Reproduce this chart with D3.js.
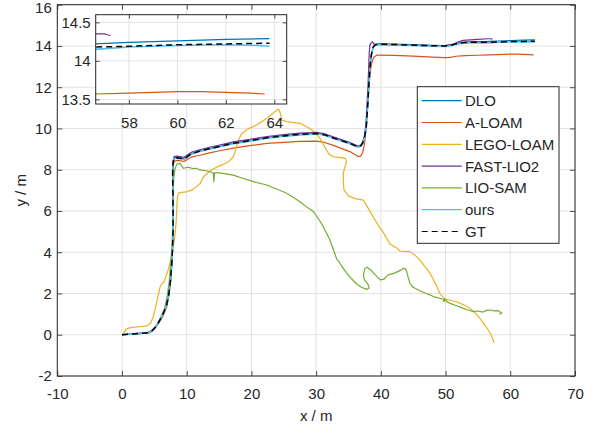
<!DOCTYPE html>
<html>
<head>
<meta charset="utf-8">
<script src="https://cdn.jsdelivr.net/npm/d3@7"></script>
<style>
  body { margin: 0; background: #fff; }
  svg { display: block; }
  text { font-family: "Liberation Sans", Arial, Helvetica, sans-serif; fill: #262626; }
</style>
</head>
<body>
<svg id="chart" width="601" height="429"></svg>
<script>
// ---- trajectories (x / m, y / m) ----
const gt = [
  [0,0],[1,0.03],[2.5,0.06],[4.0,0.1],[4.6,0.18],[5.2,0.38],[5.8,0.68],[6.4,1.05],[6.9,1.45],
  [7.25,2.0],[7.5,2.65],[7.68,3.4],[7.8,4.1],[7.88,5.0],[7.9,5.9],[7.87,7.0],[7.82,7.8],[7.88,8.3],
  [8.0,8.55],[8.5,8.58],[9.0,8.56],[9.6,8.52],[10.2,8.66],[10.8,8.78],[12.0,8.9],[13.5,9.02],
  [15.1,9.13],[17.2,9.28],[20,9.42],[22.4,9.55],[25,9.64],[27.5,9.71],[30.1,9.76],[31.2,9.7],
  [32.65,9.54],[34,9.4],[35.2,9.28],[36.0,9.17],[36.5,9.11],[36.9,9.16],[37.2,9.3],[37.5,9.6],
  [37.75,10.1],[37.9,10.8],[38.05,11.6],[38.2,12.4],[38.35,13.1],[38.55,13.6],[38.8,13.93],
  [39.1,14.05],[39.6,14.09],[42,14.07],[45,14.04],[48,14.01],[49.9,14.0],[50.8,14.03],[51.6,14.1],
  [52.7,14.16],[54,14.18],[56.6,14.18],[58,14.19],[60,14.21],[62,14.22],[63.8,14.23]
];
const dlo = [
  [0,0],[1,0.03],[2.5,0.06],[4.0,0.1],[4.6,0.19],[5.2,0.39],[5.8,0.69],[6.4,1.06],[6.9,1.46],
  [7.25,2.0],[7.5,2.65],[7.68,3.4],[7.8,4.1],[7.88,5.0],[7.9,5.9],[7.87,7.0],[7.82,7.8],[7.88,8.32],
  [8.0,8.57],[8.5,8.6],[9.0,8.58],[9.6,8.54],[10.2,8.68],[10.8,8.8],[12.0,8.92],[13.5,9.04],
  [15.1,9.15],[17.2,9.3],[20,9.44],[22.4,9.57],[25,9.66],[27.5,9.73],[30.1,9.78],[31.2,9.72],
  [32.65,9.56],[34,9.42],[35.2,9.3],[36.0,9.19],[36.5,9.13],[36.9,9.18],[37.2,9.32],[37.5,9.62],
  [37.75,10.12],[37.9,10.82],[38.05,11.62],[38.2,12.42],[38.35,13.12],[38.55,13.62],[38.8,13.95],
  [39.1,14.07],[39.6,14.11],[42,14.09],[45,14.06],[48,14.03],[49.9,14.02],[50.8,14.05],[51.6,14.12],
  [52.7,14.19],[54,14.21],[56.6,14.22],[58,14.24],[60,14.26],[62,14.28],[63.8,14.29]
];
const aloam = [
  [0,0],[2.5,0.04],[4.3,0.1],[5.0,0.28],[5.6,0.53],[6.3,0.88],[6.9,1.34],[7.3,2.0],[7.5,2.65],
  [7.7,3.4],[7.8,4.1],[7.9,5.0],[7.92,5.9],[7.9,7.0],[7.86,7.8],[7.95,8.25],[8.1,8.42],[8.7,8.45],
  [9.6,8.4],[10.2,8.52],[10.8,8.62],[12.05,8.7],[13.5,8.82],[15.1,8.92],[17.2,9.05],[20,9.18],
  [22.4,9.28],[25,9.33],[27.5,9.37],[30.1,9.39],[31.2,9.33],[32.65,9.18],[34,9.02],[35.2,8.88],
  [36,8.74],[36.5,8.64],[36.9,8.66],[37.2,8.85],[37.5,9.3],[37.75,10.2],[37.95,11.1],[38.15,12.0],
  [38.35,12.7],[38.6,13.2],[38.9,13.45],[39.4,13.56],[42,13.54],[45,13.51],[48,13.46],[49.9,13.43],
  [50.8,13.45],[51.6,13.5],[53,13.53],[55,13.55],[56.6,13.57],[58,13.58],[59,13.59],[60,13.6],
  [61,13.6],[62,13.59],[63,13.58],[63.6,13.57]
];
const legoLoam = [
  [0,0],[0.2,0.04],[0.6,0.26],[1.0,0.32],[1.7,0.36],[3.0,0.4],[3.8,0.42],[4.4,0.55],[4.8,0.85],
  [5.1,1.2],[5.5,1.8],[5.9,2.33],[6.2,2.5],[6.5,2.57],[7.0,3.0],[7.4,3.46],[7.8,4.1],[8.0,4.43],
  [8.2,4.9],[8.35,5.4],[8.45,6.0],[8.55,6.69],[8.85,6.89],[10.0,6.93],[10.8,7.02],[11.5,7.18],
  [12.1,7.35],[12.6,7.66],[13.6,7.95],[15.1,8.2],[15.65,8.25],[16.5,8.4],[17.2,8.63],[17.6,9.0],
  [18.0,9.44],[18.5,9.76],[19.5,9.98],[20.8,10.17],[22.4,10.49],[23.6,10.81],[24.2,10.94],
  [24.5,10.7],[24.7,10.41],[25.45,10.33],[27.5,10.25],[29.05,10.0],[30.0,9.75],[30.6,9.52],
  [31.1,9.25],[31.6,8.95],[32.0,8.75],[32.65,8.63],[33.5,8.6],[34.5,8.55],[34.7,8.39],[34.4,8.1],
  [34.2,7.83],[34.2,7.4],[34.3,7.02],[35.0,6.73],[36.0,6.6],[37.3,6.53],[38.1,6.1],[38.8,5.72],
  [39.6,5.3],[40.4,4.95],[41.4,4.4],[42.45,4.2],[43.0,4.05],[44.5,4.03],[45.3,3.85],[46.05,3.62],
  [47.6,2.98],[48.5,2.45],[49.1,2.01],[49.9,1.73],[50.8,1.66],[51.7,1.6],[52.8,1.45],[53.8,1.28],
  [54.6,1.05],[55.3,0.8],[56.0,0.5],[56.6,0.23],[57.1,-0.05],[57.5,-0.39]
];
const fastLio2 = [
  [0,0],[1,0.03],[2.5,0.07],[4.0,0.12],[4.6,0.2],[5.2,0.4],[5.8,0.7],[6.4,1.07],[6.9,1.47],
  [7.25,2.0],[7.5,2.65],[7.68,3.4],[7.8,4.1],[7.88,5.0],[7.9,5.9],[7.87,7.0],[7.84,7.8],[7.9,8.38],
  [8.05,8.64],[8.5,8.66],[9.0,8.64],[9.6,8.6],[10.2,8.74],[10.8,8.86],[12.0,8.97],[13.5,9.09],
  [15.1,9.2],[17.2,9.35],[20,9.49],[22.4,9.61],[25,9.7],[27.5,9.77],[30.1,9.81],[31.2,9.75],
  [32.65,9.59],[34,9.45],[35.2,9.32],[36.0,9.21],[36.5,9.15],[36.9,9.2],[37.2,9.35],[37.5,9.7],
  [37.7,10.3],[37.85,11.1],[38.0,12.0],[38.1,12.8],[38.2,13.64],[38.3,14.04],[38.5,14.15],
  [38.7,14.2],[38.9,14.1],[39.4,14.06],[42,14.05],[45,14.03],[48,14.02],[49.9,14.02],[51.2,14.09],
  [52.0,14.2],[52.7,14.27],[55,14.32],[56.6,14.35],[57.0,14.35],[57.1,14.34],[57.25,14.33]
];
const lioSam = [
  [0,0],[2,0.03],[4.3,0.1],[5.2,0.35],[6.0,0.85],[6.6,1.3],[7.0,1.9],[7.3,2.6],[7.5,3.4],[7.7,4.2],
  [7.8,5.0],[7.85,6.0],[7.9,7.0],[8.0,7.6],[8.2,8.05],[8.45,8.26],[8.96,8.31],[9.2,8.2],[9.47,8.07],
  [10.2,8.12],[11.0,8.05],[11.5,8.07],[12.05,7.99],[13.0,7.95],[13.6,7.9],[14.1,7.85],[14.2,7.42],
  [14.3,7.85],[15.1,7.85],[16.0,7.8],[17.2,7.74],[18.5,7.6],[20.3,7.42],[22.4,7.26],[24.0,7.05],
  [25.45,6.86],[26.5,6.65],[27.5,6.45],[28.5,6.2],[29.6,5.96],[30.4,5.6],[31.1,5.24],[32.1,4.62],
  [32.7,4.1],[33.2,3.65],[33.5,3.55],[34.0,3.3],[34.7,3.0],[35.5,2.7],[36.3,2.45],[37.0,2.3],
  [37.8,2.2],[38.2,2.27],[38.0,2.45],[37.5,2.65],[37.3,2.85],[37.4,3.05],[37.55,3.22],[37.9,3.27],
  [38.4,3.15],[39.0,2.95],[39.9,2.66],[40.5,2.7],[41.15,2.9],[42.2,3.0],[43.0,3.12],[43.5,3.22],
  [43.8,3.2],[44.0,3.05],[44.3,2.7],[44.5,2.49],[45.0,2.3],[45.8,2.17],[46.6,2.05],[47.6,1.93],
  [48.4,1.82],[49.1,1.77],[49.6,1.72],[49.75,1.6],[49.9,1.75],[50.1,1.62],[50.7,1.52],[51.6,1.42],
  [52.7,1.28],[53.5,1.2],[54.3,1.12],[55.0,1.15],[55.8,1.1],[56.3,1.18],[56.9,1.2],[57.5,1.16],
  [58.15,1.17],[58.7,1.04],[58.3,1.0]
];
const ours = [
  [0,0],[1,0.03],[2.5,0.06],[4.0,0.1],[4.6,0.18],[5.2,0.37],[5.8,0.67],[6.4,1.04],[6.9,1.44],
  [7.25,2.0],[7.5,2.65],[7.68,3.4],[7.8,4.1],[7.88,5.0],[7.9,5.9],[7.87,7.0],[7.82,7.8],[7.88,8.28],
  [8.0,8.53],[8.5,8.56],[9.0,8.54],[9.6,8.5],[10.2,8.64],[10.8,8.76],[12.0,8.88],[13.5,9.0],
  [15.1,9.11],[17.2,9.26],[20,9.4],[22.4,9.53],[25,9.62],[27.5,9.69],[30.1,9.74],[31.2,9.68],
  [32.65,9.52],[34,9.38],[35.2,9.26],[36.0,9.15],[36.5,9.09],[36.9,9.14],[37.2,9.28],[37.5,9.58],
  [37.75,10.08],[37.9,10.78],[38.05,11.58],[38.2,12.38],[38.35,13.08],[38.55,13.58],[38.8,13.91],
  [39.1,14.03],[39.6,14.07],[42,14.05],[45,14.02],[48,13.99],[49.9,13.98],[50.8,14.01],[51.6,14.08],
  [52.7,14.13],[54,14.15],[56.6,14.15],[58,14.18],[60,14.2],[62,14.21],[63.3,14.2],[63.8,14.19]
];

const seriesNames = ["DLO", "A-LOAM", "LEGO-LOAM", "FAST-LIO2", "LIO-SAM", "ours", "GT"];
const seriesData = [dlo, aloam, legoLoam, fastLio2, lioSam, ours, gt];
const seriesColors = ["#0072BD", "#D95319", "#EDB120", "#7E2F8E", "#77AC30", "#4DBEEE", "#000000"];

const xTicks = [-10, 0, 10, 20, 30, 40, 50, 60, 70];
const yTicks = [-2, 0, 2, 4, 6, 8, 10, 12, 14, 16];
const insetXTicks = [58, 60, 62, 64];
const insetYTicks = [13.5, 14, 14.5];

// ---- drawing ----
const svg = d3.select("#chart");
const FONT = 15;

function styleFor(i) {
  const dashed = seriesNames[i] === "GT";
  return {
    stroke: seriesColors[i],
    width: dashed ? 1.5 : (seriesNames[i] === "ours" ? 1.6 : 1.2),
    dash: dashed ? "6,4" : null
  };
}

function drawAxes(id, xs, ys, xt, yt, tickLen, labelPadX, labelPadY) {
  const [x0, x1] = xs.range();
  const [y0, y1] = ys.range(); // y0 bottom, y1 top
  const g = svg.append("g");

  g.append("rect").attr("x", x0).attr("y", y1).attr("width", x1 - x0).attr("height", y0 - y1)
    .attr("fill", "#fff");

  // grid
  const grid = g.append("g").attr("stroke", "#e3e3e3").attr("stroke-width", 1);
  grid.selectAll("line.gx").data(xt).join("line")
    .attr("x1", d => xs(d)).attr("x2", d => xs(d)).attr("y1", y0).attr("y2", y1);
  grid.selectAll("line.gy").data(yt).join("line")
    .attr("x1", x0).attr("x2", x1).attr("y1", d => ys(d)).attr("y2", d => ys(d));

  // series
  const clipId = "clip-" + id;
  g.append("clipPath").attr("id", clipId).append("rect")
    .attr("x", x0).attr("y", y1).attr("width", x1 - x0).attr("height", y0 - y1);
  const line = d3.line().x(d => xs(d[0])).y(d => ys(d[1]));
  const lines = g.append("g").attr("clip-path", `url(#${clipId})`);
  seriesData.forEach((data, i) => {
    const s = styleFor(i);
    lines.append("path").datum(data).attr("d", line)
      .attr("fill", "none").attr("stroke", s.stroke).attr("stroke-width", s.width)
      .attr("stroke-linejoin", "round").attr("stroke-dasharray", s.dash);
  });

  // axes with inward ticks on all four sides
  const fmt = d => String(d);
  const bottom = g.append("g").attr("transform", `translate(0,${y0})`)
    .call(d3.axisBottom(xs).tickValues(xt).tickSize(-tickLen).tickSizeOuter(0).tickPadding(labelPadX).tickFormat(fmt));
  const left = g.append("g").attr("transform", `translate(${x0},0)`)
    .call(d3.axisLeft(ys).tickValues(yt).tickSize(-tickLen).tickSizeOuter(0).tickPadding(labelPadY).tickFormat(fmt));
  const top = g.append("g").attr("transform", `translate(0,${y1})`)
    .call(d3.axisTop(xs).tickValues(xt).tickSize(-tickLen).tickSizeOuter(0).tickFormat(""));
  const right = g.append("g").attr("transform", `translate(${x1},0)`)
    .call(d3.axisRight(ys).tickValues(yt).tickSize(-tickLen).tickSizeOuter(0).tickFormat(""));
  [bottom, left, top, right].forEach(a => {
    a.select(".domain").remove();
    a.selectAll(".tick line").attr("stroke", "#262626").attr("stroke-width", 0.8);
    a.selectAll("text").attr("font-size", FONT).attr("font-family", null).attr("fill", "#262626");
  });
  // keep the topmost y label inside the page
  left.selectAll(".tick text").filter(d => d === yt[yt.length - 1] && ys(d) < 8)
    .attr("dy", "0.52em");

  g.append("rect").attr("x", x0).attr("y", y1).attr("width", x1 - x0).attr("height", y0 - y1)
    .attr("fill", "none").attr("stroke", "#262626").attr("stroke-width", 1);
  return g;
}

// main axes
const x = d3.scaleLinear([-10, 70], [57.3, 575]);
const y = d3.scaleLinear([-2, 16], [376, 4.7]);
drawAxes("main", x, y, xTicks, yTicks, 5, 12.5, 5.5);

svg.append("text").attr("x", (57.3 + 575) / 2).attr("y", 421).attr("text-anchor", "middle")
  .attr("font-size", FONT).text("x / m");
svg.append("text").attr("transform", `translate(26,${(376 + 4.7) / 2}) rotate(-90)`)
  .attr("text-anchor", "middle").attr("font-size", FONT).text("y / m");

// zoomed inset of the final straight
const ix = d3.scaleLinear([56.63, 64.51], [95.7, 286.7]);
const iy = d3.scaleLinear([13.44, 14.6], [104, 14.7]);
drawAxes("inset", ix, iy, insetXTicks, insetYTicks, 4, 13.5, 5);

// legend
const legend = svg.append("g");
legend.append("rect").attr("x", 417.3).attr("y", 86.7).attr("width", 559 - 417.3).attr("height", 243.3 - 86.7)
  .attr("fill", "#fff").attr("stroke", "#262626").attr("stroke-width", 1);
seriesNames.forEach((name, i) => {
  const cy = 100.7 + i * 21.8;
  const s = styleFor(i);
  legend.append("line").attr("x1", 421.7).attr("x2", 461.7).attr("y1", cy).attr("y2", cy)
    .attr("stroke", s.stroke).attr("stroke-width", 1.2).attr("stroke-dasharray", s.dash);
  legend.append("text").attr("x", 465).attr("y", cy + 5.4).attr("font-size", FONT).text(name);
});
</script>
</body>
</html>
